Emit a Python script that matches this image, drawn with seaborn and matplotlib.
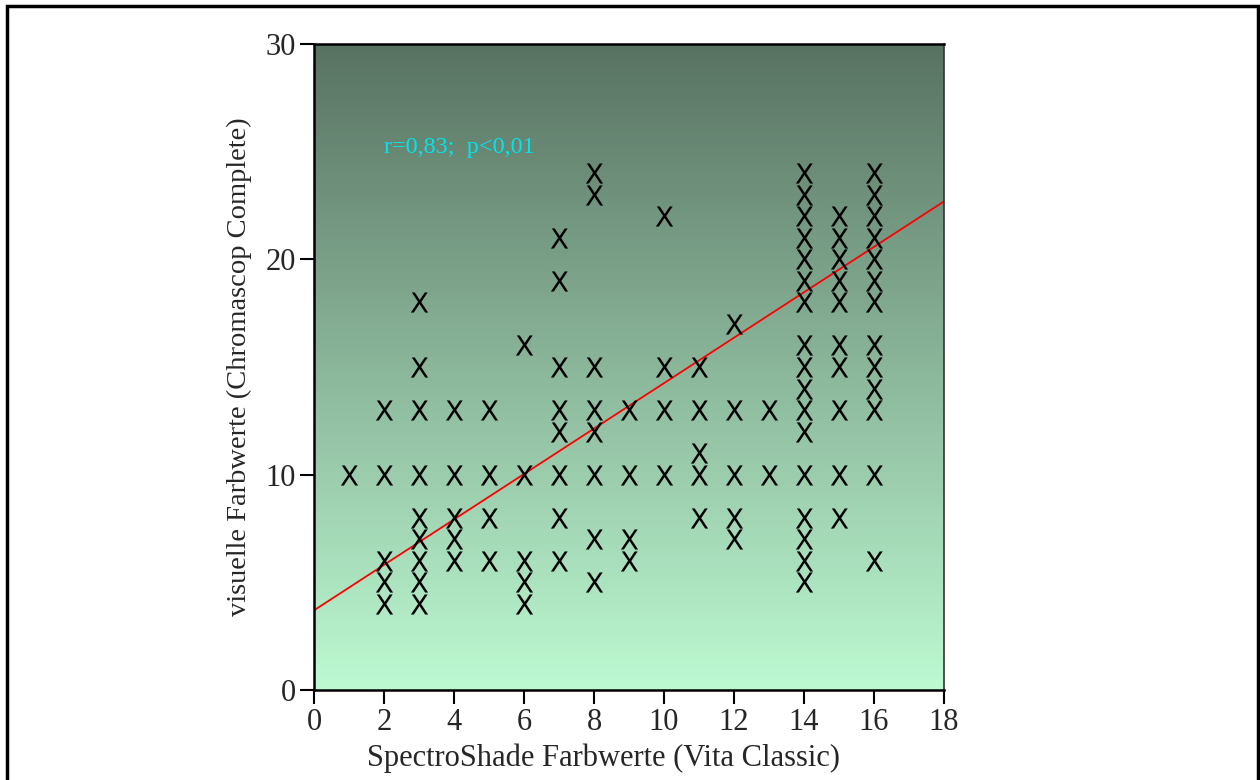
import numpy as np
import pandas as pd
import matplotlib
matplotlib.use("Agg")
import matplotlib.pyplot as plt
import seaborn as sns
from matplotlib.colors import LinearSegmentedColormap
from matplotlib.patches import Rectangle

# data: one list of y values per x position
x_values = [1, 2, 3, 4, 5, 6, 7, 8, 9, 10, 11, 12, 13, 14, 15, 16]
y_columns = [
    [10],
    [13, 10, 6, 5, 4],
    [18, 15, 13, 10, 8, 7, 6, 5, 4],
    [13, 10, 8, 7, 6],
    [13, 10, 8, 6],
    [16, 10, 6, 5, 4],
    [21, 19, 15, 13, 12, 10, 8, 6],
    [24, 23, 15, 13, 12, 10, 7, 5],
    [13, 10, 7, 6],
    [22, 15, 13, 10],
    [15, 13, 11, 10, 8],
    [17, 13, 10, 8, 7],
    [13, 10],
    [24, 23, 22, 21, 20, 19, 18, 16, 15, 14, 13, 12, 10, 8, 7, 6, 5],
    [22, 21, 20, 19, 18, 16, 15, 13, 10, 8],
    [24, 23, 22, 21, 20, 19, 18, 16, 15, 14, 13, 10, 6],
]
# fitted line as printed in the chart (points overlap, so it's read off, not refit)
reg_intercept = 3.7
reg_slope = 1.055
x_ticks = [0, 2, 4, 6, 8, 10, 12, 14, 16, 18]
y_ticks = [0, 10, 20, 30]
stat_text = "r=0,83;  p<0,01"

rows = [(x, y) for x, col in zip(x_values, y_columns) for y in col]
df = pd.DataFrame(rows, columns=["spectro", "visuell"])

sns.set_style("ticks")
plt.rcParams['font.family'] = ['Liberation Serif', 'DejaVu Serif']

fig = plt.figure(figsize=(12.6, 7.8), dpi=100)
ax = fig.add_axes([314 / 1260, 1 - 690 / 780, 630 / 1260, 646 / 780])
ax.set_xlim(0, 18)
ax.set_ylim(0, 30)

# gradient background
cmap = LinearSegmentedColormap.from_list("bg", ["#bdfad2", "#587262"])
grad = np.linspace(0, 1, 256).reshape(-1, 1)
ax.imshow(grad, extent=[0, 18, 0, 30], origin="lower", aspect="auto",
          cmap=cmap, zorder=0)

# regression line across the whole axis
ax.axline((0, reg_intercept), slope=reg_slope, color="red", lw=1.3, zorder=2)

sns.scatterplot(data=df, x="spectro", y="visuell", ax=ax, marker=r"$\mathsf{X}$",
                s=210, color="black", linewidth=0, zorder=3)

ax.text(2.0, 25.2, stat_text, color="#00e5ee", fontsize=17.5, va="center", ha="left")

ax.set_xticks(x_ticks)
ax.set_yticks(y_ticks)
ax.tick_params(axis="both", direction="out", length=10, width=1.5, labelsize=22,
               color="black", pad=3)
for side in ["left", "bottom", "top"]:
    ax.spines[side].set_color("black")
    ax.spines[side].set_linewidth(1.8)
ax.spines["right"].set_color("#333333")
ax.spines["right"].set_linewidth(1.2)

ax.set_xlabel("SpectroShade Farbwerte (Vita Classic)", fontsize=22)
ax.xaxis.set_label_coords(0.46, -0.083)
ax.set_ylabel("visuelle Farbwerte (Chromascop Complete)", fontsize=20.5, labelpad=10)

# frame around the figure (open at the bottom)
fig.patches.append(Rectangle((6.5 / 1260, -0.05), 1251 / 1260, 1.05 - 5.5 / 780,
                             transform=fig.transFigure, fill=False,
                             edgecolor="black", linewidth=2.5))

plt.savefig("out.png", dpi=100)
